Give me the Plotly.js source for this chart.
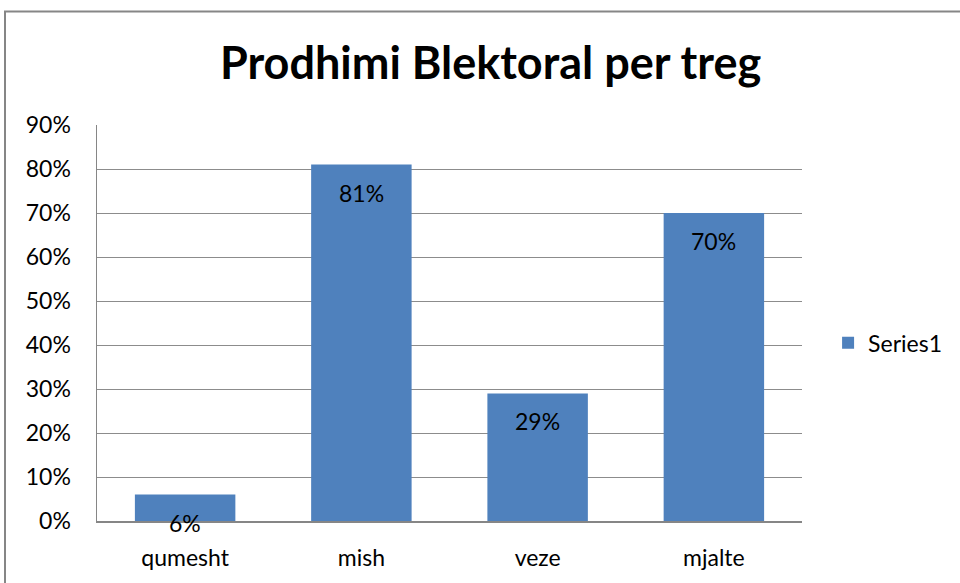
<!DOCTYPE html>
<html>
<head>
<meta charset="utf-8">
<script src="https://cdn.plot.ly/plotly-3.0.1.min.js"></script>
<style>html,body{margin:0;padding:0;background:#fff;}#chart{width:960px;height:583px;}</style>
</head>
<body>
<div id="chart"></div>
<script>
var categories = ["qumesht", "mish", "veze", "mjalte"];
var values = [0.06, 0.81, 0.29, 0.70];
var labels = ["6%", "81%", "29%", "70%"];
var tickVals = [0, 0.1, 0.2, 0.3, 0.4, 0.5, 0.6, 0.7, 0.8, 0.9];
var tickText = ["0%", "10%", "20%", "30%", "40%", "50%", "60%", "70%", "80%", "90%"];
var seriesName = "Series1";
var titleText = "Prodhimi Blektoral per treg";

var FONT = "Lato, 'Open Sans', sans-serif";

var trace = {
  type: "bar",
  x: categories,
  y: values,
  name: seriesName,
  marker: {color: "#4F81BD"},
  hoverinfo: "none"
};

var annotations = categories.map(function(c, i) {
  return {
    x: c, y: values[i], xref: "x", yref: "y",
    text: labels[i], showarrow: false,
    yanchor: "middle", yshift: -28,
    font: {family: FONT, size: 23, color: "#000"}
  };
});

var layout = {
  width: 960, height: 583,
  margin: {l: 97, r: 158, t: 125, b: 62, autoexpand: false},
  paper_bgcolor: "#fff", plot_bgcolor: "#fff",
  bargap: 0.43,
  showlegend: true,
  title: {text: titleText, x: 0.511, xanchor: "center", y: 0.892, yanchor: "middle",
          font: {family: FONT, size: 45, color: "#000", weight: "bold"}},
  xaxis: {
    showgrid: false, showline: true, linecolor: "#868686", linewidth: 1.5,
    ticks: "", tickfont: {family: FONT, size: 23, color: "#000"},
    ticklabelstandoff: 16, fixedrange: true
  },
  yaxis: {
    range: [0, 0.9], tickvals: tickVals, ticktext: tickText,
    showgrid: true, gridcolor: "#8c8c8c", gridwidth: 1,
    showline: true, linecolor: "#868686", linewidth: 1.5,
    zeroline: false, ticks: "",
    tickfont: {family: FONT, size: 23, color: "#000"},
    ticklabelstandoff: 20, fixedrange: true
  },
  legend: {x: 1.037, xanchor: "left", y: 0.45, yanchor: "middle",
           font: {family: FONT, size: 23, color: "#000"}, itemwidth: 30},
  annotations: annotations,
  shapes: [{type: "rect", xref: "paper", yref: "paper",
            x0: -0.1305, x1: 1.4, y0: -0.5, y1: 1.2866,
            line: {color: "#868686", width: 2}, fillcolor: "rgba(0,0,0,0)", layer: "below"}]
};

Plotly.newPlot("chart", [trace], layout, {displayModeBar: false, staticPlot: true});
</script>
</body>
</html>
